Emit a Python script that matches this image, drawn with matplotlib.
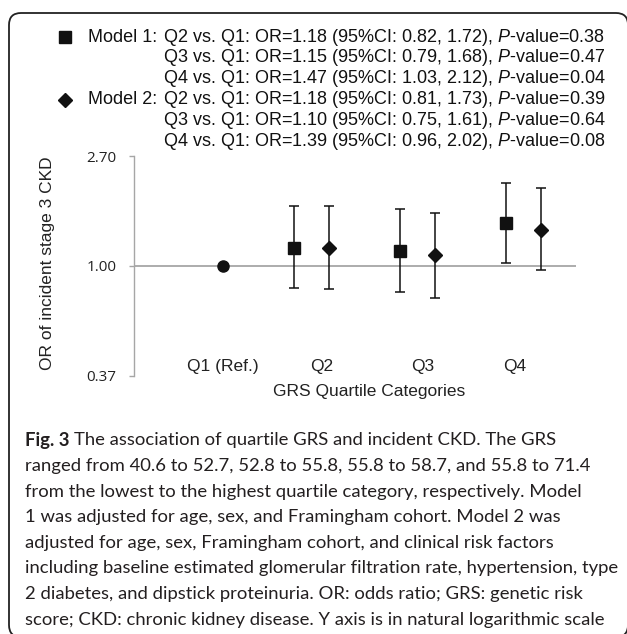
import matplotlib.pyplot as plt
import numpy as np
from matplotlib.patches import FancyBboxPatch
from matplotlib.transforms import IdentityTransform, blended_transform_factory

plt.rcParams['font.family'] = 'Liberation Sans'
plt.rcParams['mathtext.fontset'] = 'custom'
plt.rcParams['mathtext.rm'] = 'Liberation Sans'
plt.rcParams['mathtext.it'] = 'Liberation Sans:italic'

W, H = 627, 634

## data (odds ratios with 95% CI)

quartiles = ['Q1 (Ref.)', 'Q2', 'Q3', 'Q4']
ref_or = 1.00

m1_or = np.array([1.18, 1.15, 1.47])
m1_lo = np.array([0.82, 0.79, 1.03])
m1_hi = np.array([1.72, 1.68, 2.12])
m1_p = [0.38, 0.47, 0.04]

m2_or = np.array([1.18, 1.10, 1.39])
m2_lo = np.array([0.81, 0.75, 0.96])
m2_hi = np.array([1.73, 1.61, 2.02])
m2_p = [0.39, 0.64, 0.08]

y_ticks = [0.37, 1.00, 2.70]

caption_head = "Fig. 3"
caption = [
    "The association of quartile GRS and incident CKD. The GRS",
    "ranged from 40.6 to 52.7, 52.8 to 55.8, 55.8 to 58.7, and 55.8 to 71.4",
    "from the lowest to the highest quartile category, respectively. Model",
    "1 was adjusted for age, sex, and Framingham cohort. Model 2 was",
    "adjusted for age, sex, Framingham cohort, and clinical risk factors",
    "including baseline estimated glomerular filtration rate, hypertension, type",
    "2 diabetes, and dipstick proteinuria. OR: odds ratio; GRS: genetic risk",
    "score; CKD: chronic kidney disease. Y axis is in natural logarithmic scale",
]
# right end (px) of each caption line in the reference, used to size the font
caption_ends = [584, 600.7, 611.7, 593, 548, 611.7, 571.7, 601.7]


def fx(px):
    return px / W


def fy(py):
    return 1 - py / H


fig = plt.figure(figsize=(W / 100, H / 100), dpi=100)
fig.patch.set_facecolor('white')

# rounded frame (partly outside the picture)
frame = FancyBboxPatch((9, H - 637), 619, 624,
                       boxstyle="round,pad=0,rounding_size=12",
                       transform=IdentityTransform(),
                       facecolor='none', edgecolor='#222222', linewidth=1.3)
fig.patches.append(frame)

ax = fig.add_axes([fx(133.5), fy(375.7), fx(576) - fx(133.5), fy(156.4) - fy(375.7)])

cat = np.arange(len(quartiles))
x_m1 = cat[1:] + 0.51
x_m2 = cat[1:] + 0.84
x_ref = cat[0] + 0.84
label_x = [0.843, 1.778, 2.73, 3.6]

ax.axhline(1.0, color='#a6a6a6', linewidth=1.3, zorder=1)

ax.plot([x_ref], [ref_or], marker='o', markersize=8, color='#111111', linestyle='none', zorder=3)

ax.errorbar(x_m1, m1_or, yerr=[m1_or - m1_lo, m1_hi - m1_or], fmt='s', markersize=8,
            color='#111111', ecolor='#111111', elinewidth=1.1, capsize=3.3, capthick=1.1, zorder=3)
ax.errorbar(x_m2, m2_or, yerr=[m2_or - m2_lo, m2_hi - m2_or], fmt='D', markersize=7,
            color='#111111', ecolor='#111111', elinewidth=1.1, capsize=3.3, capthick=1.1, zorder=3)

ax.set_yscale('log')
ax.set_ylim(0.37, 2.70)
ax.set_xlim(0, 442.5 / 106)
ax.set_yticks(y_ticks)
ax.set_yticklabels([f"{v:.2f}" for v in y_ticks], fontfamily='Open Sans', fontsize=11, color='#222222')
ax.minorticks_off()
ax.set_xticks([])
ax.tick_params(axis='y', length=3.3, width=1, color='#a6a6a6', pad=9)

for s in ['top', 'right', 'bottom']:
    ax.spines[s].set_visible(False)
ax.spines['left'].set_color('#a6a6a6')
ax.spines['left'].set_linewidth(1)

trans = blended_transform_factory(ax.transData, ax.transAxes)
for xl, q in zip(label_x, quartiles):
    ax.text(xl, 0.041, q, transform=trans, ha='center', va='center', fontsize=12.5, color='#222222')

fig.text(fx(369), fy(391.7), 'GRS Quartile Categories', ha='center', va='center', fontsize=12.5, color='#222222')
fig.text(fx(47.5), fy(263), 'OR of incident stage 3 CKD', rotation=90, ha='center', va='center',
         fontsize=12.5, color='#222222')

## legend text block

row_y = [37 + 20.9 * i for i in range(6)]
rows = []
for model, ors, los, his, ps in [(1, m1_or, m1_lo, m1_hi, m1_p), (2, m2_or, m2_lo, m2_hi, m2_p)]:
    for i, q in enumerate(quartiles[1:]):
        txt = f"{q} vs. Q1: OR={ors[i]:.2f} (95%CI: {los[i]:.2f}, {his[i]:.2f}), $\\mathit{{P}}$-value={ps[i]:.2f}"
        rows.append((model if i == 0 else None, txt))

for (model, txt), yy in zip(rows, row_y):
    if model is not None:
        fig.text(fx(88), fy(yy), f"Model {model}:", ha='left', va='center', fontsize=13, color='#111111')
        fig.lines.append(plt.Line2D([fx(65)], [fy(yy)], transform=fig.transFigure,
                                    marker='s' if model == 1 else 'D',
                                    markersize=8 if model == 1 else 7, color='#111111', linestyle='none'))
    fig.text(fx(163), fy(yy), txt, ha='left', va='center', fontsize=13, color='#111111')

## caption (font size fitted to the reference line widths)

cap_font = 'Lato'
base = 12.0
x0 = 25
renderer = fig.canvas.get_renderer()
head = fig.text(fx(x0), fy(440.5), caption_head, ha='left', va='center', fontfamily=cap_font,
                fontweight='bold', fontsize=base, color='#231f20')
cap_texts = []
for i, line in enumerate(caption):
    t = fig.text(fx(x0), fy(440.5 + 25.6 * i), line, ha='left', va='center',
                 fontfamily=cap_font, fontsize=base, color='#231f20')
    cap_texts.append(t)

ratios = []
for i, t in enumerate(cap_texts[1:], start=1):
    w = t.get_window_extent(renderer).width
    ratios.append((caption_ends[i] - x0) / w)
size = base * float(np.median(ratios))
head.set_fontsize(size)
for t in cap_texts:
    t.set_fontsize(size)

# first line continues after the bold head
hx = head.get_window_extent(renderer).x1
sp = fig.text(0, 0, 'a a', fontfamily=cap_font, fontsize=size)
sp2 = fig.text(0, 0, 'aa', fontfamily=cap_font, fontsize=size)
space_w = sp.get_window_extent(renderer).width - sp2.get_window_extent(renderer).width
sp.remove()
sp2.remove()
cap_texts[0].set_x((hx + space_w) / W)

fig.savefig('out.png', dpi=100)
